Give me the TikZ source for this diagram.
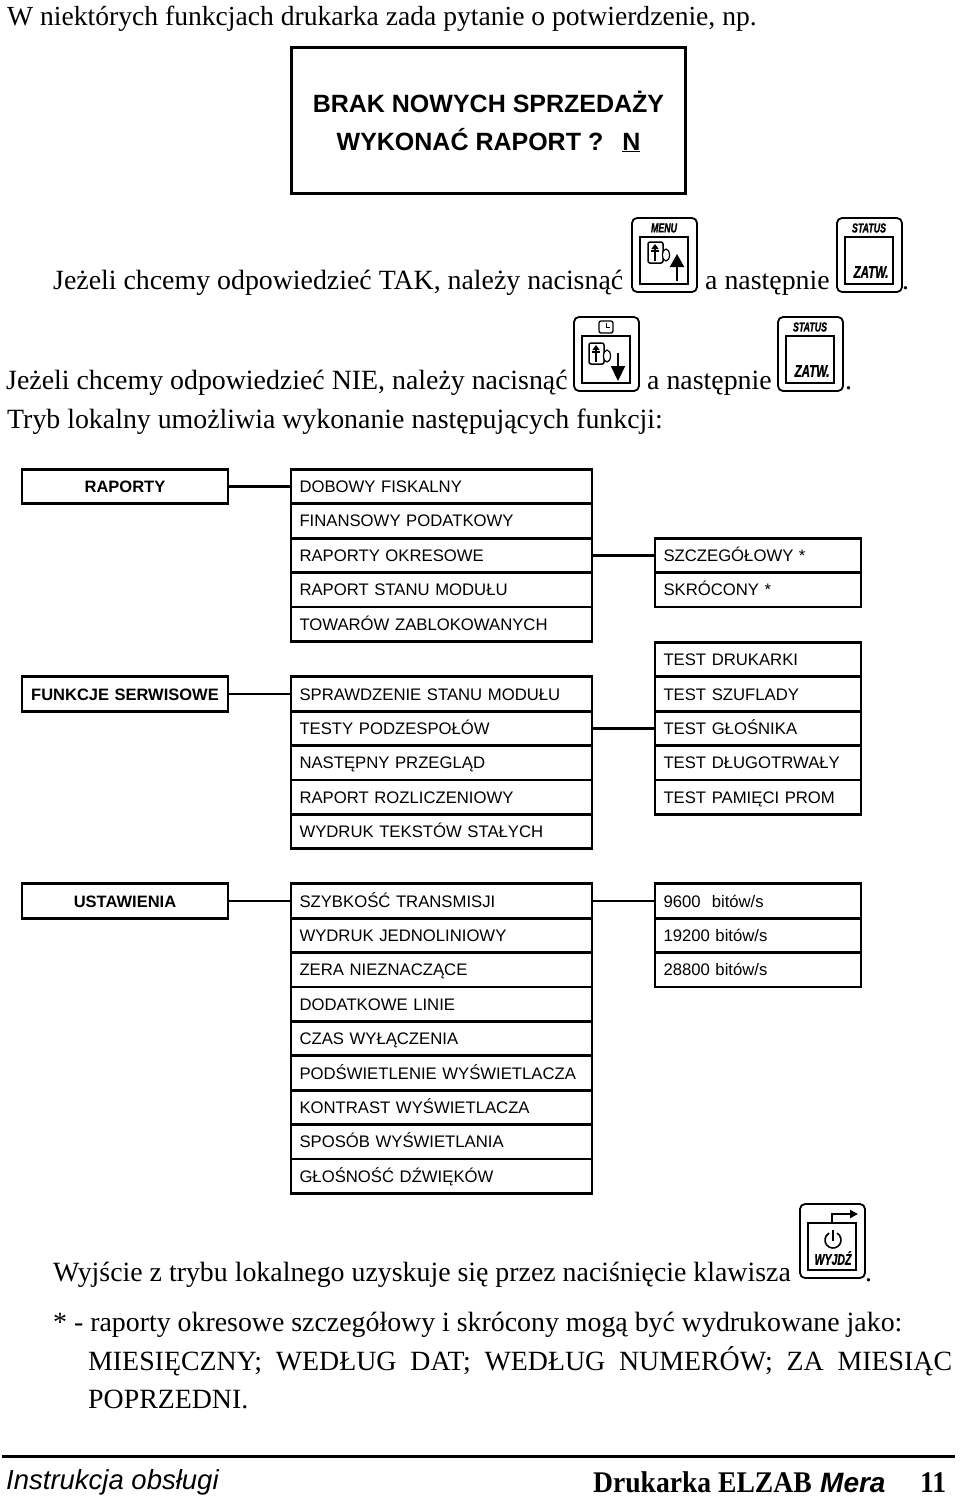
\documentclass[tikz,border=0pt]{standalone}
\usepackage{fontspec}
\setmainfont{Liberation Serif}
\setsansfont{Liberation Sans}
\newfontfamily\keyfont[FakeStretch=0.68, BoldItalicFeatures={FakeBold=1}]{Liberation Sans}
\newfontfamily\footserif[FakeStretch=0.92]{Liberation Serif}
\usepackage{tikz}
\usetikzlibrary{arrows.meta, positioning}

\tikzset{
  % --- Key icons ---
  keyouter/.style={line width=1.8pt, rounded corners=5pt},
  keyinner/.style={line width=2pt},
  keylbl/.style={inner sep=0pt, font=\keyfont\fontsize{13}{14}\selectfont\bfseries\itshape},
  keyzatw/.style={inner sep=0pt, font=\keyfont\fontsize{17}{18}\selectfont\bfseries\itshape},
  keybase/.pic={
    \draw[keyouter] (0,0) rectangle (65,74);
    \draw[keyinner] (8,19) rectangle (56,66);
  },
  keyroll/.pic={
    \draw[line width=1.5pt, rounded corners=2pt] (0,0) -- (15,0) -- (15,21) -- (0,21) -- cycle;
    \draw[line width=1.2pt, fill=white] (18,13) ellipse (3.5 and 6);
    \draw[line width=2.6pt, -{Triangle[length=5pt,width=7pt]}] (7,19) -- (7,2);
    \draw[line width=1.6pt] (3,9) -- (11,9);
  },
  keymenu/.pic={
    \pic {keybase};
    \node[keylbl] (-lbl) at (32,10) {MENU};
    \pic at (16,24) {keyroll};
    \draw[line width=2.2pt, -{Triangle[length=13pt,width=14pt]}] (45,63) -- (45,36);
  },
  keyclock/.pic={
    \pic {keybase};
    \draw[line width=1.3pt, rounded corners=2pt] (25,4) rectangle (39,16);
    \draw[line width=1pt] (32,6) -- (32,10) -- (36,10);
    \pic at (15,26) {keyroll};
    \draw[line width=2.2pt, -{Triangle[length=15pt,width=14pt]}] (44,36) -- (44,64);
  },
  keystatus/.pic={
    \pic {keybase};
    \node[keylbl] (-lbl) at (32,10) {STATUS};
    \node[keyzatw] (-zatw) at (34,54) {ZATW.};
  },
  keyexit/.pic={
    \pic {keybase};
    \draw[line width=2pt, -{Triangle[length=8pt,width=8pt]}] (32,19) -- (32,10) -- (58,10);
    \draw[line width=1.6pt] (37,29.1) arc[start angle=-60, end angle=240, radius=8];
    \draw[line width=1.6pt] (33,26) -- (33,37);
    \node[keylbl, font=\keyfont\fontsize{15.5}{16}\selectfont\bfseries\itshape] (-lbl) at (33,54) {WYJDŹ};
  },
}

\begin{document}
\begin{tikzpicture}[
  x=1pt, y=-1pt,
  node distance=0pt and 63pt,
  % --- Text ---
  bodytext/.style={anchor=base west, inner sep=0pt, font=\fontsize{27.85}{30}\selectfont},
  % --- Boxes ---
  basebox/.style={
    rectangle, draw, line width=2.8pt, outer sep=0pt,
    minimum height=34.4pt, text height=14pt, text depth=2pt,
    font=\sffamily\fontsize{16.7}{20}\selectfont
  },
  headbox/.style={basebox, text width=202pt, inner xsep=2pt, align=center,
    font=\sffamily\bfseries\fontsize{16.5}{20}\selectfont},
  itembox/.style={basebox, text width=284pt, inner xsep=8.5pt, align=left},
  subbox/.style={basebox, text width=189pt, inner xsep=8.5pt, align=left},
  % --- Connectors ---
  link/.style={line width=2.8pt},
]
\useasboundingbox (0,0) rectangle (960,1499);

% ===================== TOP TEXT =====================
\node[bodytext, font=\fontsize{27.6}{30}\selectfont] (intro) at (7,25)
  {W niektórych funkcjach drukarka zada pytanie o potwierdzenie, np.};

\node[draw, line width=3pt, minimum width=394pt, minimum height=146pt,
      align=center, font=\sffamily\bfseries\fontsize{25}{38}\selectfont] (display) at (488.5,120.5)
  {\rule{0pt}{23pt}BRAK NOWYCH SPRZEDAŻY\\WYKONAĆ RAPORT ?\hspace{19pt}\underline{N}};

\node[bodytext] (tak) at (53,289) {Jeżeli chcemy odpowiedzieć TAK, należy nacisnąć};
\pic (menukey) at (632,218) {keymenu};
\node[bodytext] (taknext) at (705,289) {a następnie};
\pic (statusa) at (837,218) {keystatus};
\node[bodytext] (takdot) at (902,289) {.};

\node[bodytext] (nie) at (6,389) {Jeżeli chcemy odpowiedzieć NIE, należy nacisnąć};
\pic (clockkey) at (574,317) {keyclock};
\node[bodytext] (nienext) at (647,389) {a następnie};
\pic (statusb) at (778,317) {keystatus};
\node[bodytext] (niedot) at (845,389) {.};

\node[bodytext] (tryb) at (7,428) {Tryb lokalny umożliwia wykonanie następujących funkcji:};

% ===================== RAPORTY =====================
\node[headbox] (raporty) at (125,486.5) {RAPORTY};
\node[itembox, right=of raporty] (dobowy) {DOBOWY FISKALNY};
\node[itembox, below=of dobowy] (finansowy) {FINANSOWY PODATKOWY};
\node[itembox, below=of finansowy] (okresowe) {RAPORTY OKRESOWE};
\node[itembox, below=of okresowe] (stan) {RAPORT STANU MODUŁU};
\node[itembox, below=of stan] (towary) {TOWARÓW ZABLOKOWANYCH};
\node[subbox, right=of okresowe] (szczeg) {SZCZEGÓŁOWY *};
\node[subbox, below=of szczeg] (skrocony) {SKRÓCONY *};

% ================= FUNKCJE SERWISOWE =================
\node[headbox] (serwis) at (125,694) {FUNKCJE SERWISOWE};
\node[itembox, right=of serwis] (spraw) {SPRAWDZENIE STANU MODUŁU};
\node[itembox, below=of spraw] (testy) {TESTY PODZESPOŁÓW};
\node[itembox, below=of testy] (przeglad) {NASTĘPNY PRZEGLĄD};
\node[itembox, below=of przeglad] (rozlicz) {RAPORT ROZLICZENIOWY};
\node[itembox, below=of rozlicz] (teksty) {WYDRUK TEKSTÓW STAŁYCH};
\node[subbox, right=of testy] (glosnik) {TEST GŁOŚNIKA};
\node[subbox, above=of glosnik] (szuflada) {TEST SZUFLADY};
\node[subbox, above=of szuflada] (drukarka) {TEST DRUKARKI};
\node[subbox, below=of glosnik] (dlugi) {TEST DŁUGOTRWAŁY};
\node[subbox, below=of dlugi] (prom) {TEST PAMIĘCI PROM};

% ===================== USTAWIENIA =====================
\node[headbox] (ustaw) at (125,901) {USTAWIENIA};
\node[itembox, right=of ustaw] (szybkosc) {SZYBKOŚĆ TRANSMISJI};
\node[itembox, below=of szybkosc] (jednolin) {WYDRUK JEDNOLINIOWY};
\node[itembox, below=of jednolin] (zera) {ZERA NIEZNACZĄCE};
\node[itembox, below=of zera] (linie) {DODATKOWE LINIE};
\node[itembox, below=of linie] (czas) {CZAS WYŁĄCZENIA};
\node[itembox, below=of czas] (podsw) {PODŚWIETLENIE WYŚWIETLACZA};
\node[itembox, below=of podsw] (kontrast) {KONTRAST WYŚWIETLACZA};
\node[itembox, below=of kontrast] (sposob) {SPOSÓB WYŚWIETLANIA};
\node[itembox, below=of sposob] (glosnosc) {GŁOŚNOŚĆ DŹWIĘKÓW};
\node[subbox, right=of szybkosc] (bit96) {9600\ \ bitów/s};
\node[subbox, below=of bit96] (bit192) {19200 bitów/s};
\node[subbox, below=of bit192] (bit288) {28800 bitów/s};

% ================ CONNECTORS ================
\draw[link] (raporty.east) -- (dobowy.west);
\draw[link] (okresowe.east) -- (szczeg.west);
\draw[link] (serwis.east) -- (spraw.west);
\draw[link] (testy.east) -- (glosnik.west);
\draw[link] (ustaw.east) -- (szybkosc.west);
\draw[link] (szybkosc.east) -- (bit96.west);

% ===================== BOTTOM TEXT =====================
\node[bodytext] (wyjscie) at (53,1281) {Wyjście z trybu lokalnego uzyskuje się przez naciśnięcie klawisza};
\pic (exitkey) at (800,1204) {keyexit};
\node[bodytext] (wyjdot) at (865,1281) {.};
\node[bodytext] (note) at (53,1331) {* - raporty okresowe szczegółowy i skrócony mogą być wydrukowane jako:};
\node[bodytext] (notea) at (88,1370) {\makebox[864pt][s]{MIESIĘCZNY; WEDŁUG DAT; WEDŁUG NUMERÓW; ZA MIESIĄC}};
\node[bodytext] (noteb) at (88,1408) {POPRZEDNI.};

% ===================== FOOTER =====================
\coordinate (ruleL) at (2,1456);
\coordinate (ruleR) at (955,1456);
\draw[line width=3pt] (ruleL) -- (ruleR);
\node[anchor=base west, inner sep=0pt, font=\sffamily\itshape\fontsize{27.5}{28}\selectfont] (manual) at (6,1489) {Instrukcja obsługi};
\node[anchor=base west, inner sep=0pt, font=\footserif\bfseries\fontsize{30}{30}\selectfont] (printer) at (593,1492)
  {Drukarka ELZAB};
\node[anchor=base west, inner sep=0pt, font=\sffamily\bfseries\itshape\fontsize{28}{30}\selectfont] (model) at (820,1492) {Mera};
\node[anchor=base west, inner sep=0pt, font=\footserif\bfseries\fontsize{30}{30}\selectfont] (pageno) at (920,1492) {11};
\end{tikzpicture}
\end{document}
